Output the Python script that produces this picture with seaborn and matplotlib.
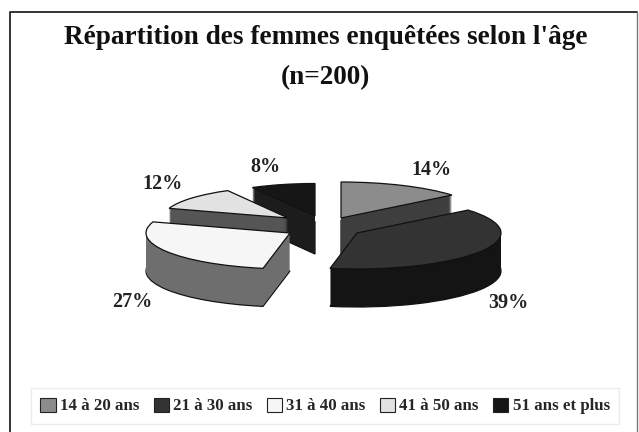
import matplotlib.pyplot as plt
from matplotlib.lines import Line2D
import seaborn as sns

# Data
age_groups = ["14 à 20 ans", "21 à 30 ans", "31 à 40 ans", "41 à 50 ans", "51 ans et plus"]
shares = [14, 39, 27, 12, 8]
pct_labels = ["14%", "39%", "27%", "12%", "8%"]

top_colors = sns.color_palette(["#8c8c8c", "#333333", "#f6f6f6", "#e2e2e2", "#161616"])
side_colors = sns.color_palette(["#3e3e3e", "#141414", "#6e6e6e", "#555555", "#1c1c1c"])

# Slice placement in pixels: apex x, apex y, x radius
apex = [(341, 218, 144), (357, 233, 144), (290, 233, 144), (288, 218, 125), (315, 216, 130)]
label_pos = [(431, 170), (508, 303), (132, 302), (163, 184), (265, 167)]

W, H = 639, 432
RX, RY = 144, 36  # one data unit on each axis
DEPTH = 38
draw_order = [0, 4, 3, 1, 2]

sns.set_theme(style="white")
plt.rcParams["font.family"] = ["Liberation Serif", "DejaVu Serif"]

fig = plt.figure(figsize=(W / 100, H / 100), dpi=100, facecolor="white")
ax = fig.add_axes([0, 0, 1, 1])


def draw_pie(colors, drop, edge):
    # one full pie, slices then moved to their exploded spots
    wedges, _ = ax.pie(shares, startangle=90, counterclock=False, colors=colors,
                       wedgeprops={"linewidth": 0.9 if edge else 0, "edgecolor": "#111111"})
    for i, w in enumerate(wedges):
        x, y, rx = apex[i]
        w.set_center((x / RX, (H - y - drop) / RY))
        w.set_radius(1.0 * (rx / RX))
    return wedges


# Extruded sides, lowest layer first, then the top face, slice by slice
for idx in draw_order:
    for drop in list(range(DEPTH, 0, -1)) + [0]:
        colors = [top_colors[idx] if drop == 0 else side_colors[idx]] * len(shares)
        wedges = draw_pie(colors, drop, drop == 0 or drop == DEPTH)
        for i, w in enumerate(wedges):
            if i != idx:
                w.remove()
            else:
                w.set_zorder(draw_order.index(idx) * 100 + (DEPTH - drop) + 1)

ax.set_aspect("auto")
ax.set_xlim(0, W / RX)
ax.set_ylim(0, H / RY)
ax.axis("off")

# Frame: dark top and left, greyer right, runs off the bottom
fig.add_artist(Line2D([10 / W, 10 / W, 637 / W], [0, 1 - 12 / H, 1 - 12 / H],
                      transform=fig.transFigure, color="#333333", linewidth=1.4))
fig.add_artist(Line2D([637 / W, 637 / W], [0, 1 - 12 / H],
                      transform=fig.transFigure, color="#777777", linewidth=1.0))

fig.text(326 / W, 1 - 38 / H, "Répartition des femmes enquêtées selon l'âge",
         ha="center", va="center", fontsize=19.6, fontweight="bold", color="#111111")
fig.text(325 / W, 1 - 78 / H, "(n=200)", ha="center", va="center",
         fontsize=19.6, fontweight="bold", color="#111111")

for (px, py), txt in zip(label_pos, pct_labels):
    fig.text(px / W, 1 - py / H, txt, ha="center", va="center",
             fontsize=14.5, fontweight="bold", color="#222222")

handles = [plt.Rectangle((0, 0), 1, 1, facecolor=c, edgecolor="#222222", linewidth=0.8) for c in top_colors]
leg = fig.legend(handles, age_groups, ncols=5, loc="center", bbox_to_anchor=(325 / W, 1 - 406 / H),
                 frameon=True, fancybox=False, edgecolor="#ececec", framealpha=1,
                 prop={"size": 12.2, "weight": "bold"}, handlelength=0.9, handleheight=0.9,
                 handletextpad=0.25, columnspacing=0.85, borderpad=0.55)

fig.savefig("out.png", dpi=100)
